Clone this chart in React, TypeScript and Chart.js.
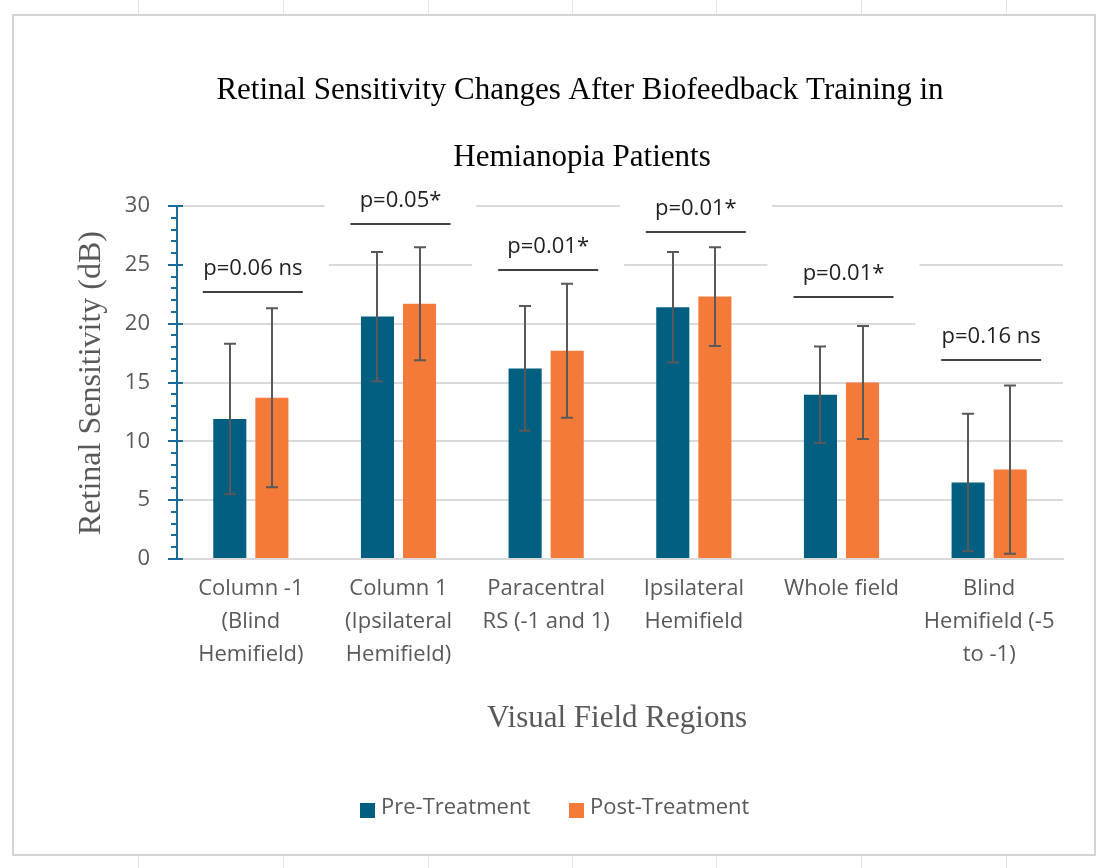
import React, { useEffect, useRef } from "react";
import { Chart, registerables } from "chart.js";

Chart.register(...registerables);

// Visual field regions (multi-line tick labels)
const categories: string[][] = [
  ["Column -1", "(Blind", "Hemifield)"],
  ["Column 1", "(Ipsilateral", "Hemifield)"],
  ["Paracentral", "RS (-1 and 1)"],
  ["Ipsilateral", "Hemifield"],
  ["Whole field"],
  ["Blind", "Hemifield (-5", "to -1)"],
];

const seriesNames = ["Pre-Treatment", "Post-Treatment"];

// Mean retinal sensitivity (dB) and standard deviations
const preMeans = [11.9, 20.6, 16.2, 21.4, 13.95, 6.5];
const preSD = [6.4, 5.5, 5.3, 4.7, 4.1, 5.85];
const postMeans = [13.7, 21.7, 17.7, 22.3, 15.0, 7.6];
const postSD = [7.6, 4.8, 5.7, 4.2, 4.8, 7.15];

// Significance annotations and the dB level of each bracket line
const pLabels = ["p=0.06 ns", "p=0.05*", "p=0.01*", "p=0.01*", "p=0.01*", "p=0.16 ns"];
const bracketLevels = [22.7, 28.5, 24.55, 27.8, 22.25, 16.9];

const yMin = 0;
const yMax = 30;
const yStep = 5;

const PRE_COLOR = "#005E80";
const POST_COLOR = "#F47A3A";
const AXIS_BLUE = "#1B6A9A";
const GRID = "#D9D9D9";
const TEXT_GRAY = "#595959";
const SANS = "'Open Sans', 'Noto Sans', sans-serif";
const SERIF = "'Liberation Serif', 'DejaVu Serif', serif";

const sheetBackground = {
  id: "sheetBackground",
  beforeDraw(chart: any) {
    const { ctx, width, height } = chart;
    ctx.save();
    ctx.fillStyle = "#ffffff";
    ctx.fillRect(0, 0, width, height);
    // spreadsheet column lines peeking out around the chart frame
    ctx.strokeStyle = "#E4E4E4";
    ctx.lineWidth = 1;
    [138, 283, 428, 572, 716, 861, 1006].forEach((x) => {
      ctx.beginPath();
      ctx.moveTo(x + 0.5, 0);
      ctx.lineTo(x + 0.5, height);
      ctx.stroke();
    });
    ctx.fillStyle = "#ffffff";
    ctx.fillRect(13, 15, 1082, 840);
    ctx.strokeStyle = "#D4D4D4";
    ctx.lineWidth = 2;
    ctx.strokeRect(13, 15, 1082, 840);
    ctx.restore();
  },
};

const significance = {
  id: "significance",
  beforeDatasetsDraw(chart: any) {
    const { ctx, chartArea } = chart;
    const xs = chart.scales.x;
    const ys = chart.scales.y;
    ctx.save();
    pLabels.forEach((label, i) => {
      const cx = xs.getPixelForValue(i) + 2;
      const ly = Math.round(ys.getPixelForValue(bracketLevels[i]));
      // white text box behind the annotation
      const left = Math.max(cx - 76, chartArea.left + 2);
      ctx.fillStyle = "#ffffff";
      ctx.fillRect(left, ly - 45, cx + 76 - left, 53);
      ctx.strokeStyle = "#404040";
      ctx.lineWidth = 2;
      ctx.beginPath();
      ctx.moveTo(cx - 50, ly);
      ctx.lineTo(cx + 50, ly);
      ctx.stroke();
      ctx.fillStyle = "#1F1F1F";
      ctx.font = `22px ${SANS}`;
      ctx.textAlign = "center";
      ctx.textBaseline = "middle";
      ctx.fillText(label, cx, ly - 23);
    });
    ctx.restore();
  },
};

const errorBars = {
  id: "errorBars",
  afterDatasetsDraw(chart: any) {
    const { ctx } = chart;
    const ys = chart.scales.y;
    ctx.save();
    ctx.strokeStyle = "#595959";
    ctx.lineWidth = 2;
    chart.data.datasets.forEach((ds: any, di: number) => {
      const meta = chart.getDatasetMeta(di);
      meta.data.forEach((bar: any, i: number) => {
        const m = ds.data[i];
        const s = ds.errors[i];
        const x = Math.round(bar.x);
        const yt = ys.getPixelForValue(m + s);
        const yb = ys.getPixelForValue(Math.max(0, m - s));
        ctx.beginPath();
        ctx.moveTo(x, yt);
        ctx.lineTo(x, yb);
        ctx.moveTo(x - 6, yt);
        ctx.lineTo(x + 6, yt);
        ctx.moveTo(x - 6, yb);
        ctx.lineTo(x + 6, yb);
        ctx.stroke();
      });
    });
    ctx.restore();
  },
};

const decorations = {
  id: "decorations",
  afterDraw(chart: any) {
    const { ctx, chartArea } = chart;
    const ys = chart.scales.y;
    ctx.save();

    // y-axis tick marks: major crossing the axis, minor outside
    ctx.strokeStyle = AXIS_BLUE;
    ctx.lineWidth = 2;
    const ax = chartArea.left;
    for (let v = yMin; v <= yMax; v += 1) {
      const y = Math.round(ys.getPixelForValue(v));
      ctx.beginPath();
      if (v % yStep === 0) {
        ctx.moveTo(ax - 9, y);
        ctx.lineTo(ax + 6, y);
      } else {
        ctx.moveTo(ax - 6, y);
        ctx.lineTo(ax, y);
      }
      ctx.stroke();
    }

    // chart title
    ctx.fillStyle = "#000000";
    ctx.font = `31px ${SERIF}`;
    ctx.textAlign = "center";
    ctx.textBaseline = "alphabetic";
    ctx.fillText("Retinal Sensitivity Changes After Biofeedback Training in", 580, 99);
    ctx.fillText("Hemianopia Patients", 582, 166);

    // axis titles
    ctx.fillStyle = TEXT_GRAY;
    ctx.font = `31px ${SERIF}`;
    ctx.fillText("Visual Field Regions", 617, 727);
    ctx.save();
    ctx.translate(100, 383);
    ctx.rotate(-Math.PI / 2);
    ctx.font = `32px ${SERIF}`;
    ctx.fillText("Retinal Sensitivity (dB)", 0, 0);
    ctx.restore();

    // legend
    const items = [
      { x: 360, color: chart.data.datasets[0].backgroundColor, label: chart.data.datasets[0].label },
      { x: 569, color: chart.data.datasets[1].backgroundColor, label: chart.data.datasets[1].label },
    ];
    ctx.font = `22px ${SANS}`;
    ctx.textAlign = "left";
    ctx.textBaseline = "middle";
    items.forEach((it) => {
      ctx.fillStyle = it.color;
      ctx.fillRect(it.x, 803, 15, 15);
      ctx.fillStyle = TEXT_GRAY;
      ctx.fillText(it.label, it.x + 21, 808);
    });

    ctx.restore();
  },
};

export default function App() {
  const canvasRef = useRef<HTMLCanvasElement | null>(null);

  useEffect(() => {
    if (!canvasRef.current) return;
    const chart = new Chart(canvasRef.current, {
      type: "bar",
      data: {
        labels: categories,
        datasets: [
          {
            label: seriesNames[0],
            data: preMeans,
            errors: preSD,
            backgroundColor: PRE_COLOR,
            categoryPercentage: 0.57,
            barPercentage: 0.786,
          } as any,
          {
            label: seriesNames[1],
            data: postMeans,
            errors: postSD,
            backgroundColor: POST_COLOR,
            categoryPercentage: 0.57,
            barPercentage: 0.786,
          } as any,
        ],
      },
      options: {
        animation: false,
        responsive: false,
        devicePixelRatio: 1,
        layout: { padding: { top: 206, left: 117, right: 46, bottom: 189 } },
        plugins: {
          legend: { display: false },
          title: { display: false },
          tooltip: { enabled: false },
        },
        scales: {
          x: {
            grid: { display: false, drawTicks: false },
            border: { display: true, color: GRID, width: 2 },
            ticks: {
              color: TEXT_GRAY,
              font: { family: SANS, size: 22, lineHeight: 1.5 },
              padding: 13,
              maxRotation: 0,
              autoSkip: false,
            },
            afterFit(scale: any) {
              scale.height = 120;
            },
          },
          y: {
            min: yMin,
            max: yMax,
            grid: { color: GRID, lineWidth: 2, drawTicks: false },
            border: { display: true, color: AXIS_BLUE, width: 2 },
            ticks: {
              stepSize: yStep,
              color: TEXT_GRAY,
              font: { family: SANS, size: 22 },
              padding: 27,
            },
            afterFit(scale: any) {
              scale.width = 60;
            },
          },
        },
      },
      plugins: [sheetBackground, significance, errorBars, decorations],
    });
    return () => chart.destroy();
  }, []);

  return (
    <div style={{ position: "absolute", left: 0, top: 0, width: 1109, height: 868 }}>
      <canvas ref={canvasRef} width={1109} height={868} />
    </div>
  );
}
